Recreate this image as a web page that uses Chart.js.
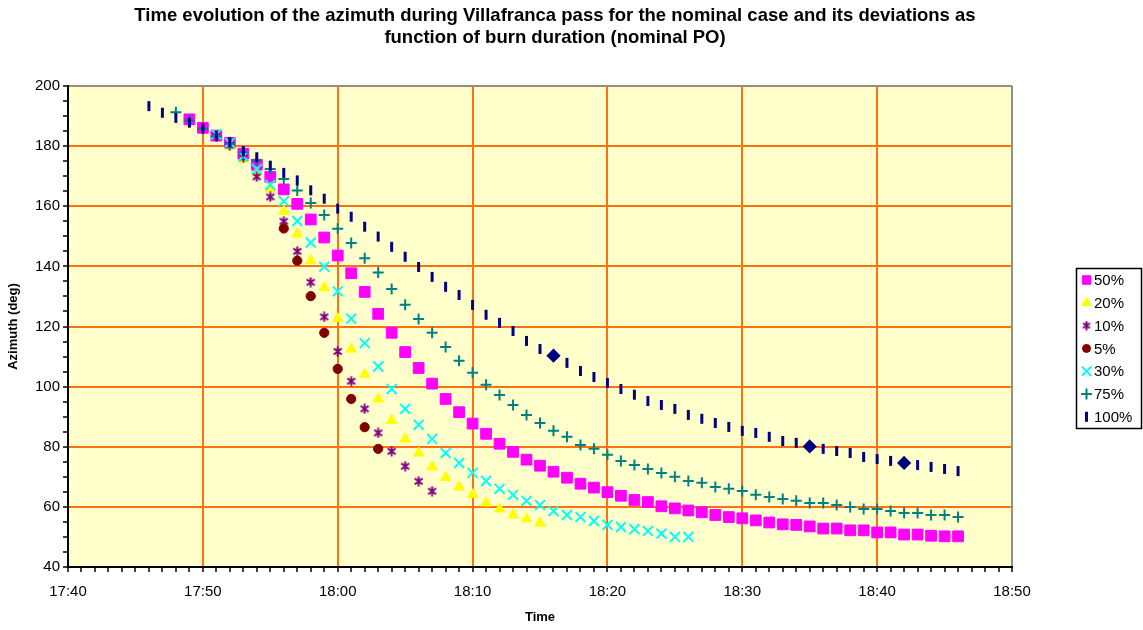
<!DOCTYPE html>
<html>
<head>
<meta charset="utf-8">
<script src="https://cdn.jsdelivr.net/npm/chart.js@4.4.0/dist/chart.umd.min.js"></script>
<style>
  html, body { margin: 0; padding: 0; background: #fff; }
  #wrap { width: 1143px; height: 630px; }
</style>
</head>
<body>
<div id="wrap"><canvas id="azimuthChart" width="1143" height="630"></canvas></div>
<script>
// minutes after midnight, 17:40 .. 18:50
const X_MIN = 1060;
const X_MAX = 1130;

// series labels in legend order
const seriesLabels = ['50%', '20%', '10%', '5%', '30%', '75%', '100%'];

// first sample of each series (minutes after 17:40), one sample per minute
const start50 = 9;
const start20 = 12;
const start10 = 11;
const start5 = 16;
const start30 = 11;
const start75 = 8;
const start100 = 6;

// azimuth (deg)
const az50 = [188.9, 186.1, 183.5, 181.1, 177.5, 173.8, 169.8, 165.6, 160.8, 155.6,
  149.6, 143.6, 137.7, 131.5, 124.2, 117.9, 111.5, 106.2, 101.0, 95.9,
  91.5, 87.7, 84.3, 81.0, 78.3, 75.7, 73.7, 71.7, 69.7, 67.7,
  66.4, 64.9, 63.7, 62.3, 61.6, 60.2, 59.5, 58.8, 58.2, 57.3,
  56.6, 56.2, 55.5, 54.8, 54.2, 54.0, 53.5, 52.8, 52.8, 52.2,
  52.2, 51.5, 51.5, 50.8, 50.8, 50.4, 50.2, 50.2];
const az20 = [180.0, 175.5, 171.1, 165.8, 158.3, 150.8, 141.9, 132.9, 122.6, 112.5,
  104.0, 95.9, 88.7, 82.6, 77.9, 73.3, 69.8, 66.6, 64.1, 61.3,
  59.3, 57.3, 56.0, 54.6];
const az10 = [183.5, 180.3, 176.2, 169.8, 163.1, 155.0, 145.0, 134.7, 123.2, 111.7,
  101.8, 92.6, 84.6, 78.5, 73.5, 68.5, 65.2];
const az5 = [152.6, 141.9, 130.1, 117.9, 105.9, 95.9, 86.5, 79.3];
const az30 = [183.9, 181.1, 176.6, 172.4, 167.1, 161.7, 155.1, 147.9, 139.9, 131.7,
  122.6, 114.5, 106.7, 99.2, 92.6, 87.3, 82.6, 77.9, 74.6, 71.3,
  68.6, 66.0, 64.0, 62.0, 60.6, 58.6, 57.3, 56.6, 55.3, 54.0,
  53.3, 52.6, 52.0, 51.1, 50.0, 50.0];
const az75 = [191.3, 188.5, 185.8, 183.3, 180.8, 178.0, 175.3, 172.4, 169.1, 165.2,
  161.1, 157.1, 152.5, 147.8, 142.7, 138.0, 132.5, 127.2, 122.5, 117.9,
  113.2, 108.6, 104.6, 100.6, 97.2, 93.9, 90.6, 87.9, 85.3, 83.3,
  80.6, 79.3, 77.3, 75.3, 73.9, 72.6, 71.3, 70.0, 68.6, 68.0,
  66.6, 66.0, 65.3, 64.0, 63.3, 62.6, 62.0, 61.3, 61.3, 60.6,
  60.0, 59.3, 59.3, 58.6, 58.0, 58.0, 57.3, 57.3, 56.6];
const az100 = [193.3, 191.1, 189.4, 187.8, 185.9, 183.3, 181.4, 178.3, 176.3, 173.5,
  171.1, 168.6, 165.3, 162.5, 159.2, 156.5, 153.2, 149.9, 146.5, 143.2,
  139.8, 136.5, 133.2, 130.5, 127.2, 123.9, 121.2, 118.5, 115.2, 112.5,
  110.3, 107.9, 105.2, 103.2, 101.2, 99.2, 97.3, 95.2, 93.9, 92.6,
  90.6, 89.3, 87.9, 86.6, 85.3, 84.6, 83.3, 81.9, 81.3, 80.1,
  79.3, 78.6, 77.9, 76.6, 75.9, 75.3, 74.6, 73.9, 73.3, 72.6,
  71.9];
// samples of the 100% series that show as a diamond
const diamonds100 = [30, 49, 56];

const ORANGE = '#FF7010';
const FONT = 'Arial, "Liberation Sans", sans-serif';

function toPoints(startMin, values) {
  return values.map((v, i) => ({ x: X_MIN + startMin + i, y: v }));
}

function fmtTime(m) {
  const h = Math.floor(m / 60);
  const mm = m % 60;
  return h + ':' + String(mm).padStart(2, '0');
}

// excel style asterisk marker
function makeAsterisk(color, size) {
  const c = document.createElement('canvas');
  c.width = size; c.height = size;
  const g = c.getContext('2d');
  g.strokeStyle = color;
  g.lineWidth = 2;
  g.beginPath();
  g.moveTo(size / 2, 0.5); g.lineTo(size / 2, size - 0.5);
  g.moveTo(1.5, 2.5); g.lineTo(size - 1.5, size - 2.5);
  g.moveTo(size - 1.5, 2.5); g.lineTo(1.5, size - 2.5);
  g.stroke();
  return c;
}
const asterisk = makeAsterisk('#800080', 11);
const asteriskSmall = makeAsterisk('#800080', 10);

const datasets = [
  { label: seriesLabels[0], data: toPoints(start50, az50), pointStyle: 'rect', pointRadius: 7.6,
    backgroundColor: '#FF00FF', borderColor: '#FF00FF', borderWidth: 1, order: 7 },
  { label: seriesLabels[1], data: toPoints(start20, az20), pointStyle: 'triangle', pointRadius: 6,
    backgroundColor: '#FFFF00', borderColor: '#FFFF00', borderWidth: 1, order: 6 },
  { label: seriesLabels[2], data: toPoints(start10, az10), pointStyle: asterisk, pointRadius: 6,
    backgroundColor: '#800080', borderColor: '#800080', borderWidth: 1, order: 5 },
  { label: seriesLabels[3], data: toPoints(start5, az5), pointStyle: 'circle', pointRadius: 4.6,
    backgroundColor: '#800000', borderColor: '#800000', borderWidth: 1, order: 4 },
  { label: seriesLabels[4], data: toPoints(start30, az30), pointStyle: 'crossRot', pointRadius: 7,
    backgroundColor: '#00FFFF', borderColor: '#00FFFF', borderWidth: 2, order: 3 },
  { label: seriesLabels[5], data: toPoints(start75, az75), pointStyle: 'cross', pointRadius: 5.5,
    backgroundColor: '#008080', borderColor: '#008080', borderWidth: 2, order: 2 },
  { label: seriesLabels[6], data: toPoints(start100, az100),
    pointStyle: (c) => diamonds100.includes(c.dataIndex) ? 'rectRot' : 'line',
    pointRotation: 90, pointRadius: 5,
    backgroundColor: '#000080', borderColor: '#000080', borderWidth: 3, order: 1 }
];

// legend markers (smaller than plot markers)
const legendMarks = [
  { pointStyle: 'rect', radius: 6, borderWidth: 1 },
  { pointStyle: 'triangle', radius: 5.5, borderWidth: 1 },
  { pointStyle: asteriskSmall, radius: 5, borderWidth: 1 },
  { pointStyle: 'circle', radius: 4, borderWidth: 1 },
  { pointStyle: 'crossRot', radius: 6.5, borderWidth: 2 },
  { pointStyle: 'cross', radius: 5.5, borderWidth: 2 },
  { pointStyle: 'line', radius: 5, borderWidth: 3, rotation: 90 }
];

const decor = {
  id: 'decor',
  beforeDraw(chart) {
    const { ctx, chartArea: a } = chart;
    ctx.save();
    ctx.fillStyle = '#FFFFCC';
    ctx.fillRect(a.left, a.top, a.right - a.left, a.bottom - a.top);
    ctx.restore();
  },
  afterDraw(chart) {
    const ctx = chart.ctx;
    ctx.save();
    // title
    ctx.fillStyle = '#000';
    ctx.font = 'bold 18.5px ' + FONT;
    ctx.textAlign = 'center';
    ctx.textBaseline = 'middle';
    ctx.fillText('Time evolution of the azimuth during Villafranca pass for the nominal case and its deviations as', 555, 16);
    ctx.fillText('function of burn duration (nominal PO)', 555, 38);

    // legend box
    ctx.fillStyle = '#fff';
    ctx.fillRect(1076, 268, 66, 161);
    ctx.strokeStyle = '#000';
    ctx.lineWidth = 1.5;
    ctx.strokeRect(1076.5, 268.5, 65, 160);
    ctx.font = '15px ' + FONT;
    ctx.textAlign = 'left';
    chart.data.datasets.forEach((ds, i) => {
      const y = 280 + i * 22.8;
      const m = legendMarks[i];
      ctx.fillStyle = ds.backgroundColor;
      ctx.strokeStyle = ds.borderColor;
      ctx.lineWidth = m.borderWidth;
      Chart.helpers.drawPoint(ctx, { pointStyle: m.pointStyle, radius: m.radius,
        rotation: m.rotation || 0, borderWidth: m.borderWidth }, 1086.5, y);
      ctx.fillStyle = '#000';
      ctx.fillText(ds.label, 1094, y + 1);
    });
    ctx.restore();
  }
};

new Chart(document.getElementById('azimuthChart'), {
  type: 'scatter',
  data: { datasets: datasets },
  options: {
    responsive: false,
    animation: false,
    devicePixelRatio: 1,
    layout: { padding: { left: 0, right: 131, top: 86, bottom: 0 } },
    plugins: {
      legend: { display: false },
      tooltip: { enabled: false }
    },
    scales: {
      x: {
        type: 'linear',
        min: X_MIN,
        max: X_MAX,
        afterFit: (s) => { s.height = 63; },
        ticks: {
          stepSize: 1,
          autoSkip: false,
          maxRotation: 0,
          padding: 11,
          color: '#000',
          font: { family: FONT, size: 15 },
          callback: (v) => v % 10 === 0 ? fmtTime(v) : ''
        },
        grid: {
          color: (c) => {
            const v = c.tick.value;
            if (v === X_MIN) return 'rgba(0,0,0,0)';
            if (v === X_MAX) return '#909090';
            return v % 10 === 0 ? ORANGE : 'rgba(0,0,0,0)';
          },
          lineWidth: 2,
          tickColor: '#000',
          tickWidth: 1.5,
          tickLength: 5
        },
        border: { color: '#000', width: 2 },
        title: {
          display: true,
          text: 'Time',
          color: '#000',
          font: { family: FONT, size: 13, weight: 'bold' },
          padding: { top: 0, bottom: 5 }
        }
      },
      y: {
        min: 40,
        max: 200,
        afterFit: (s) => { s.width = 68; },
        ticks: {
          stepSize: 5,
          autoSkip: false,
          padding: 3,
          color: '#000',
          font: { family: FONT, size: 15 },
          callback: (v) => v % 20 === 0 ? v : ''
        },
        grid: {
          color: (c) => {
            const v = c.tick.value;
            if (v === 40) return 'rgba(0,0,0,0)';
            if (v === 200) return '#A08A78';
            return v % 20 === 0 ? ORANGE : 'rgba(0,0,0,0)';
          },
          lineWidth: 2,
          tickColor: '#000',
          tickWidth: 1.5,
          tickLength: 5
        },
        border: { color: '#000', width: 2 },
        title: {
          display: true,
          text: 'Azimuth (deg)',
          color: '#000',
          font: { family: FONT, size: 13, weight: 'bold' },
          padding: { top: 6, bottom: 0 }
        }
      }
    }
  },
  plugins: [decor]
});
</script>
</body>
</html>
